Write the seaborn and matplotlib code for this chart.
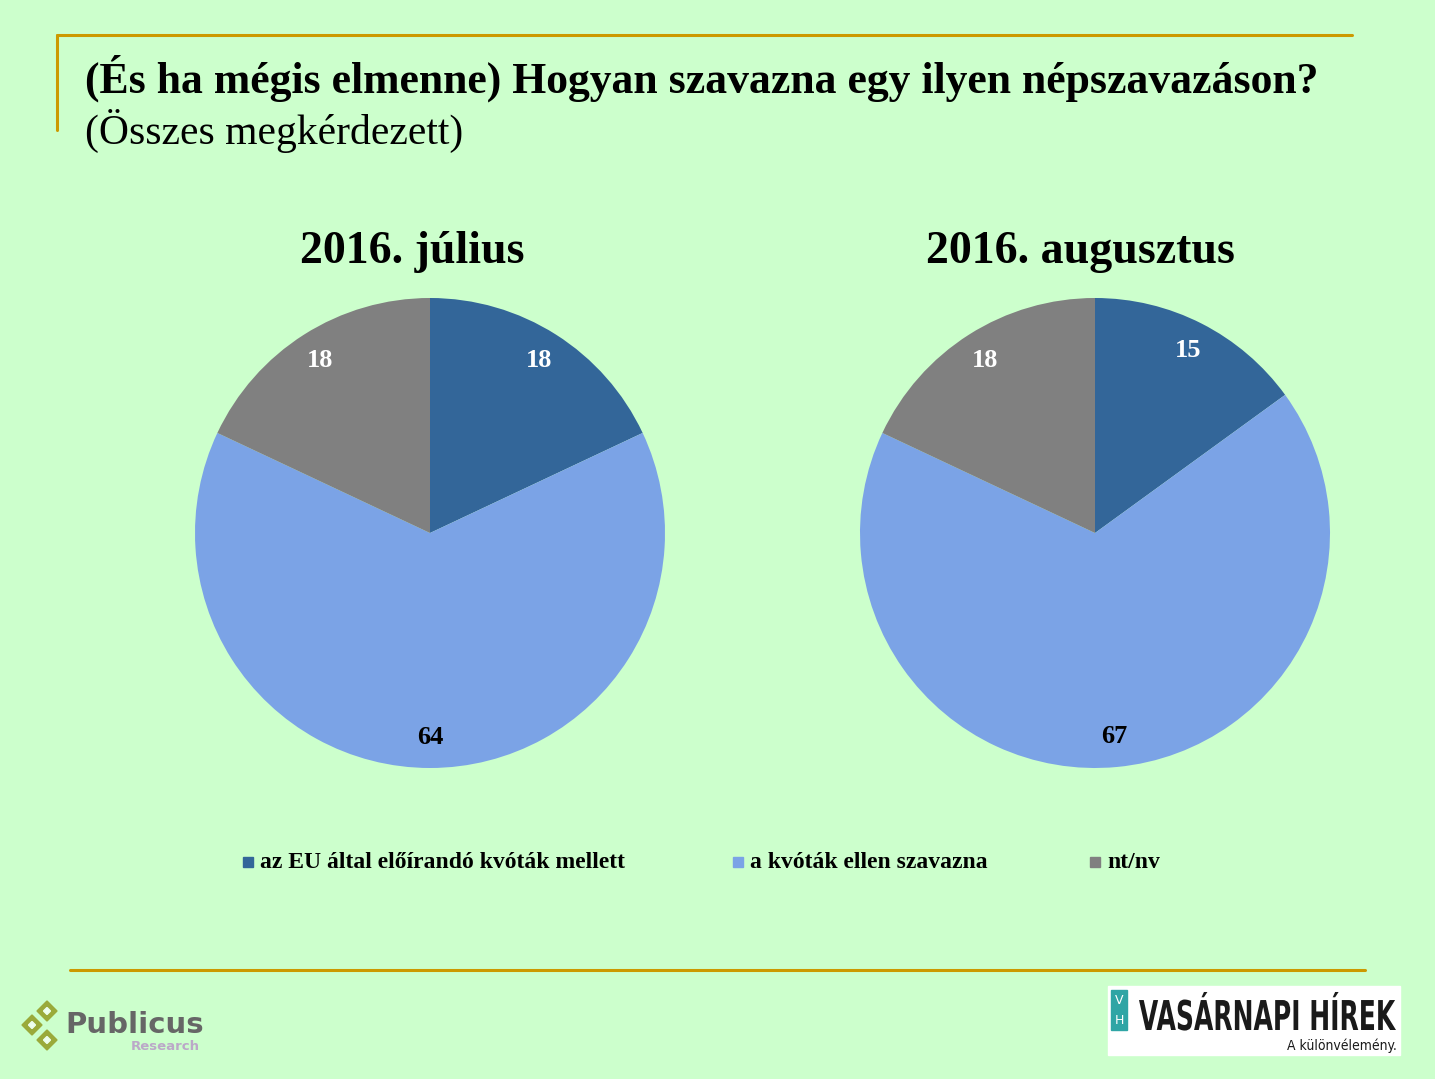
import matplotlib.pyplot as plt
import seaborn as sns
from matplotlib.patches import Rectangle, RegularPolygon, PathPatch
from matplotlib.textpath import TextPath
from matplotlib.font_manager import FontProperties
from matplotlib.transforms import Affine2D

# data
categories = ["az EU által előírandó kvóták mellett", "a kvóták ellen szavazna", "nt/nv"]
periods = ["2016. július", "2016. augusztus"]
july = [18, 64, 18]
august = [15, 67, 18]
colors = ["#336699", "#7BA3E6", "#808080"]
label_colors = ["white", "black", "white"]

sns.set_style("white")
plt.rcParams["font.family"] = ["Liberation Serif", "DejaVu Serif"]
plt.rcParams["text.color"] = "black"

W, H = 1435, 1079
bg = "#CCFFCC"
gold = "#CC9900"
fig = plt.figure(figsize=(W / 100, H / 100), dpi=100)
fig.patch.set_facecolor(bg)

# overlay axes in pixel coordinates for the slide decoration
deco = fig.add_axes([0, 0, 1, 1], zorder=0)
deco.set_xlim(0, W)
deco.set_ylim(H, 0)
deco.axis("off")
deco.patch.set_alpha(0)

deco.plot([57, 1352], [35, 35], color=gold, lw=2.2)
deco.plot([57, 57], [35, 130], color=gold, lw=2.2)
deco.plot([70, 1365], [970, 970], color=gold, lw=2.2)

deco.text(85, 78, "(És ha mégis elmenne) Hogyan szavazna egy ilyen népszavazáson?",
          fontsize=31.5, fontweight="bold", va="center", ha="left")
deco.text(85, 131, "(Összes megkérdezett)", fontsize=30, va="center", ha="left")

r = 235
for cx, title, vals, tx in [(430, periods[0], july, 412), (1095, periods[1], august, 1080)]:
    ax = fig.add_axes([(cx - r) / W, 1 - (533 + r) / H, 2 * r / W, 2 * r / H], zorder=1)
    wedges, texts = ax.pie(vals, colors=colors, startangle=90, counterclock=False,
                           labels=[str(v) for v in vals], labeldistance=0.87,
                           wedgeprops={"linewidth": 0})
    for t, c in zip(texts, label_colors):
        t.set_color(c)
        t.set_fontsize(19)
        t.set_fontweight("bold")
        t.set_ha("center")
        t.set_va("center")
    ax.set_xlim(-1, 1)
    ax.set_ylim(-1, 1)
    ax.set_aspect("equal")
    ax.axis("off")
    deco.text(tx, 252, title, fontsize=33, fontweight="bold", ha="center", va="center")

# legend
for x, lab, c in zip([243, 733, 1090], categories, colors):
    deco.add_patch(Rectangle((x, 857), 10, 10, color=c))
    deco.text(x + 17, 862, lab, fontsize=17, fontweight="bold", va="center", ha="left")

# Publicus logo
for (px, py) in [(47, 1011), (32, 1025), (47, 1040)]:
    deco.add_patch(RegularPolygon((px, py), 4, radius=10, orientation=0, color="#9AAA3A"))
    deco.add_patch(RegularPolygon((px, py), 4, radius=3.5, orientation=0, color="#EEFFEE"))
deco.text(65, 1025, "Publicus", fontsize=21, fontweight="bold", color="#666666",
          family="DejaVu Sans", va="center", ha="left")
deco.text(200, 1047, "Research", fontsize=9.5, fontweight="bold", color="#BBA8C8",
          family="DejaVu Sans", va="center", ha="right")

# Vasárnapi Hírek logo
deco.add_patch(Rectangle((1108, 986), 292, 69, color="white"))
deco.add_patch(Rectangle((1111, 990), 16, 40, color="#2FA5A5"))
deco.text(1119, 1000, "V", fontsize=9, color="white", family="DejaVu Sans", ha="center", va="center")
deco.text(1119, 1021, "H", fontsize=9, color="white", family="DejaVu Sans", ha="center", va="center")

tp = TextPath((0, 0), "VASÁRNAPI HÍREK", size=10,
              prop=FontProperties(family="DejaVu Sans", weight="bold"))
bb = tp.get_extents()
sx = 257 / bb.width
sy = 30 / 7.3  # cap height of DejaVu Sans at size 10 ~ 7.3
trans = Affine2D().translate(-bb.x0, 0).scale(sx, -sy).translate(1139, 1030) + deco.transData
deco.add_patch(PathPatch(tp, color="#1A1A1A", lw=0, transform=trans))
deco.text(1397, 1046, "A különvélemény.", fontsize=10, color="#1A1A1A",
          family="DejaVu Sans", va="center", ha="right", stretch="condensed")

fig.savefig("out.png", dpi=100, facecolor=fig.get_facecolor())
